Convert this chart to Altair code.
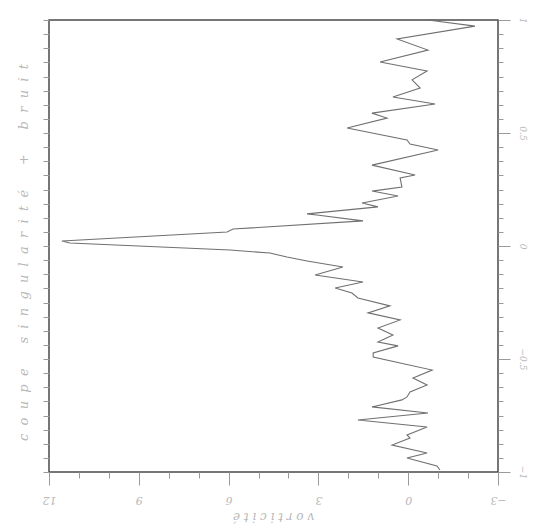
import altair as alt
import pandas as pd

# Profile of vorticity along the cut (position runs from 1 at the top to -1 at the bottom)
position = [
    1.000, 0.973, 0.916, 0.867, 0.814, 0.774, 0.735, 0.699, 0.659, 0.628,
    0.588, 0.566, 0.522, 0.469, 0.451, 0.425, 0.358, 0.314, 0.301, 0.261,
    0.243, 0.221, 0.190, 0.173, 0.142, 0.137, 0.111, 0.075, 0.062, 0.022,
    0.013, -0.018, -0.031, -0.049, -0.066, -0.093, -0.128, -0.159, -0.186, -0.208,
    -0.230, -0.265, -0.296, -0.327, -0.363, -0.394, -0.425, -0.442, -0.473, -0.491,
    -0.549, -0.584, -0.615, -0.646, -0.668, -0.681, -0.712, -0.739, -0.770, -0.801,
    -0.836, -0.850, -0.881, -0.916, -0.938, -0.973, -0.991,
]
vorticite = [
    -0.66, -2.23, 0.37, -0.66, 0.94, -0.63, -0.13, -0.40, 0.51, -0.90,
    1.21, 0.71, 2.04, 0.04, -0.06, -1.00, 1.21, -0.23, 0.27, 0.21,
    1.21, 0.34, 1.54, 1.01, 3.38, 3.05, 1.51, 5.85, 6.05, 11.57,
    11.30, 5.95, 4.62, 4.05, 3.38, 2.18, 3.11, 1.51, 2.44, 1.88,
    1.68, 0.61, 1.34, 0.27, 1.01, 0.51, 1.01, 0.34, 1.17, 1.17,
    -0.80, -0.16, -0.63, -0.06, 0.04, 0.21, 1.21, -0.66, 1.68, -0.63,
    0.04, -0.06, 0.54, -0.63, 0.04, -0.96, -1.06,
]

x_ticks = list(range(-3, 13))
y_minor = [round(-1 + k / 16, 4) for k in range(33)]


def spaced(text, gap=2, word_gap=6):
    """Letter-spaced caption built with non-breaking spaces."""
    nb = "\u00a0"
    words = text.split(" ")
    return (nb * word_gap).join((nb * gap).join(w) for w in words)


df = pd.DataFrame({"i": range(len(position)), "position": position, "vorticite": vorticite})

LABEL_GRAY = "#b8b8b8"
TICK_GRAY = "#9a9a9a"
FONT = "DejaVu Serif"

x_enc = alt.X(
    "vorticite:Q",
    scale=alt.Scale(domain=[-3, 12], reverse=True, nice=False, zero=False),
    axis=alt.Axis(
        orient="bottom",
        values=x_ticks,
        labelExpr="datum.value % 3 === 0 ? datum.label : ''",
        tickSize={"condition": {"test": "datum.value % 3 === 0", "value": 13}, "value": 6},
        tickColor=TICK_GRAY,
        labelAngle=180,
        labelAlign="center",
        labelBaseline="middle",
        labelPadding=14,
        labelColor=LABEL_GRAY,
        labelFont=FONT,
        labelFontStyle="italic",
        labelFontSize=11,
        domain=False,
        grid=False,
        title=spaced("vorticité", gap=1),
        titleAngle=180,
        titleX=224,
        titleY=44,
        titleAlign="center",
        titleBaseline="middle",
        titleColor=LABEL_GRAY,
        titleFont=FONT,
        titleFontStyle="italic",
        titleFontWeight="normal",
        titleFontSize=12,
    ),
)

y_left = alt.Y(
    "position:Q",
    scale=alt.Scale(domain=[-1, 1], nice=False, zero=False),
    axis=alt.Axis(
        orient="left",
        values=y_minor,
        labels=False,
        tickSize=6,
        tickColor=TICK_GRAY,
        domain=False,
        grid=False,
        title=spaced("coupe singularité + bruit"),
        titleAngle=270,
        titleX=-26,
        titleY=232,
        titleAlign="center",
        titleBaseline="middle",
        titleColor=LABEL_GRAY,
        titleFont=FONT,
        titleFontStyle="italic",
        titleFontWeight="normal",
        titleFontSize=13,
    ),
)

y_right = alt.Y(
    "position:Q",
    scale=alt.Scale(domain=[-1, 1], nice=False, zero=False),
    axis=alt.Axis(
        orient="right",
        values=y_minor,
        labelExpr="datum.value % 0.5 === 0 ? format(datum.value, '~g') : ''",
        tickSize={"condition": {"test": "datum.value % 0.5 === 0", "value": 12}, "value": 5},
        tickColor=TICK_GRAY,
        labelAngle=90,
        labelAlign="center",
        labelBaseline="middle",
        labelPadding=12,
        labelColor=LABEL_GRAY,
        labelFont=FONT,
        labelFontStyle="italic",
        labelFontSize=9,
        domain=False,
        grid=False,
        title=None,
    ),
)

curve = alt.Chart(df).mark_line(color="#707070", strokeWidth=1.1).encode(
    x=x_enc, y=y_left, order="i:Q"
)
curve_right = alt.Chart(df).mark_line(strokeOpacity=0).encode(
    x=x_enc, y=y_right, order="i:Q"
)

chart = (
    alt.layer(curve, curve_right)
    .resolve_scale(y="independent")
    .properties(
        width=449,
        height=452,
        autosize="none",
        padding={"left": 49, "top": 20, "right": 50, "bottom": 60},
        background="white",
    )
    .configure_view(stroke="#4a4a4a", strokeWidth=1.5)
)

chart.save("out.html", embed_options={"renderer": "svg", "actions": False})
